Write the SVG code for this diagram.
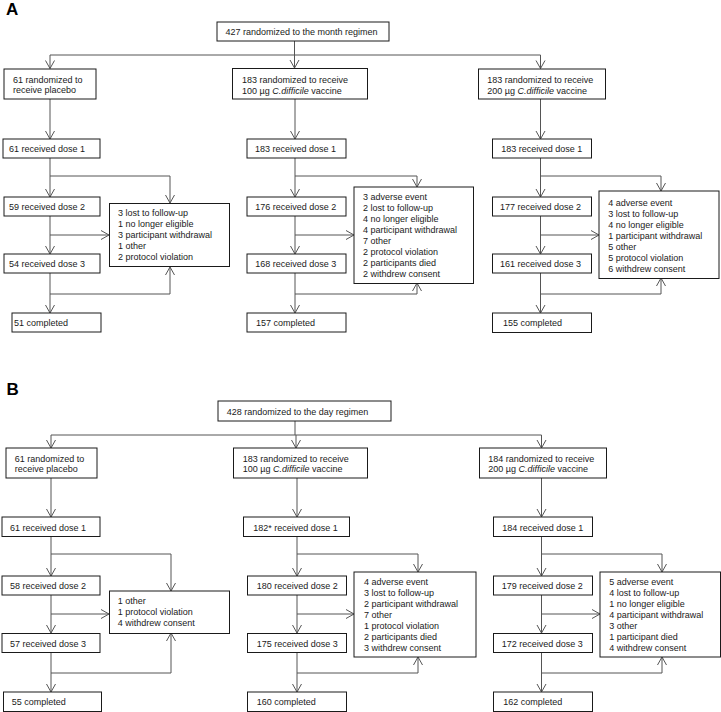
<svg xmlns="http://www.w3.org/2000/svg" width="721" height="712" viewBox="0 0 721 712">
<defs>
<style>
.b{fill:#fff;stroke:#1a1a1a;stroke-width:1}
.t{font-family:"Liberation Sans",Arial,sans-serif;font-size:9px;fill:#1a1a1a}
.i{font-style:italic}
.c{fill:none;stroke:#555;stroke-width:1}
.p{font-family:"Liberation Sans",Arial,sans-serif;font-size:17px;font-weight:bold;fill:#000}
</style>
<marker id="ah" markerUnits="userSpaceOnUse" markerWidth="8" markerHeight="10" viewBox="0 0 8 10" refX="8" refY="5" orient="auto" overflow="visible">
<path d="M0,0.5 L8,5 L0,9.5" fill="none" stroke="#555" stroke-width="1"/>
</marker>
</defs>
<rect width="721" height="712" fill="#fff"/>
<text class="p" x="6" y="15">A</text>
<text class="p" x="6.5" y="395">B</text>

<g id="connectors">
<!-- Panel A -->
<path class="c" d="M294.5,41 V55 M50,55 H540.5"/>
<path class="c" d="M50,55 V68.5" marker-end="url(#ah)"/>
<path class="c" d="M294.5,55 V68" marker-end="url(#ah)"/>
<path class="c" d="M540.5,55 V68.5" marker-end="url(#ah)"/>
<path class="c" d="M50,99 V139" marker-end="url(#ah)"/>
<path class="c" d="M50,158 V197" marker-end="url(#ah)"/>
<path class="c" d="M50,176 H170 V203" marker-end="url(#ah)"/>
<path class="c" d="M50,216 V254" marker-end="url(#ah)"/>
<path class="c" d="M50,235 H109" marker-end="url(#ah)"/>
<path class="c" d="M50,273 V313" marker-end="url(#ah)"/>
<path class="c" d="M50,294 H170 V267" marker-end="url(#ah)"/>

<path class="c" d="M295,99 V139" marker-end="url(#ah)"/>
<path class="c" d="M295,158 V197" marker-end="url(#ah)"/>
<path class="c" d="M295,176 H417 V187" marker-end="url(#ah)"/>
<path class="c" d="M295,216 V254" marker-end="url(#ah)"/>
<path class="c" d="M295,235 H354" marker-end="url(#ah)"/>
<path class="c" d="M295,273 V313" marker-end="url(#ah)"/>
<path class="c" d="M295,294 H417 V283" marker-end="url(#ah)"/>

<path class="c" d="M540.5,99 V139" marker-end="url(#ah)"/>
<path class="c" d="M540.5,158 V197" marker-end="url(#ah)"/>
<path class="c" d="M540.5,176 H661 V191" marker-end="url(#ah)"/>
<path class="c" d="M540.5,216 V254" marker-end="url(#ah)"/>
<path class="c" d="M540.5,235 H599" marker-end="url(#ah)"/>
<path class="c" d="M540.5,273 V313" marker-end="url(#ah)"/>
<path class="c" d="M540.5,294 H661 V278" marker-end="url(#ah)"/>

<!-- Panel B -->
<path class="c" d="M295,421 V435 M51,435 H541.5"/>
<path class="c" d="M51,435 V448" marker-end="url(#ah)"/>
<path class="c" d="M296,435 V448" marker-end="url(#ah)"/>
<path class="c" d="M541.5,435 V448" marker-end="url(#ah)"/>
<path class="c" d="M51,478 V517" marker-end="url(#ah)"/>
<path class="c" d="M51,537 V576" marker-end="url(#ah)"/>
<path class="c" d="M51,554 H171 V591" marker-end="url(#ah)"/>
<path class="c" d="M51,595 V633" marker-end="url(#ah)"/>
<path class="c" d="M51,614 H109" marker-end="url(#ah)"/>
<path class="c" d="M51,653 V692" marker-end="url(#ah)"/>
<path class="c" d="M51,673 H171 V633" marker-end="url(#ah)"/>

<path class="c" d="M297,478 V517" marker-end="url(#ah)"/>
<path class="c" d="M297,537 V576" marker-end="url(#ah)"/>
<path class="c" d="M297,554 H418 V572" marker-end="url(#ah)"/>
<path class="c" d="M297,595 V633" marker-end="url(#ah)"/>
<path class="c" d="M297,614 H354" marker-end="url(#ah)"/>
<path class="c" d="M297,653 V692" marker-end="url(#ah)"/>
<path class="c" d="M297,673 H418 V657" marker-end="url(#ah)"/>

<path class="c" d="M541.5,478 V517" marker-end="url(#ah)"/>
<path class="c" d="M541.5,537 V576" marker-end="url(#ah)"/>
<path class="c" d="M541.5,554 H662 V572" marker-end="url(#ah)"/>
<path class="c" d="M541.5,595 V633" marker-end="url(#ah)"/>
<path class="c" d="M541.5,614 H600" marker-end="url(#ah)"/>
<path class="c" d="M541.5,653 V692" marker-end="url(#ah)"/>
<path class="c" d="M541.5,673 H662 V657" marker-end="url(#ah)"/>
</g>

<!-- Panel A nodes -->
<g id="a-top"><rect class="b" x="217" y="22" width="172" height="19"/><text class="t" x="225.5" y="35.3">427 randomized to the month regimen</text></g>

<g id="a-placebo"><rect class="b" x="4" y="69" width="92" height="30"/><text class="t" x="13" y="82.5">61 randomized to</text><text class="t" x="13" y="93.3">receive placebo</text></g>
<g id="a-p-d1"><rect class="b" x="3" y="139" width="97" height="19"/><text class="t" x="9" y="151.5">61 received dose 1</text></g>
<g id="a-p-d2"><rect class="b" x="4" y="197" width="96" height="19"/><text class="t" x="9" y="209.5">59 received dose 2</text></g>
<g id="a-p-disc"><rect class="b" x="109.5" y="203.5" width="120" height="63"/>
<text class="t" x="118" y="216.3">3 lost to follow-up</text>
<text class="t" x="118" y="227.3">1 no longer eligible</text>
<text class="t" x="118" y="238.3">3 participant withdrawal</text>
<text class="t" x="118" y="249.3">1 other</text>
<text class="t" x="118" y="260.3">2 protocol violation</text></g>
<g id="a-p-d3"><rect class="b" x="4" y="254" width="96" height="19"/><text class="t" x="9" y="267">54 received dose 3</text></g>
<g id="a-p-comp"><rect class="b" x="12" y="313" width="89" height="19"/><text class="t" x="14" y="326">51 completed</text></g>

<g id="a-100"><rect class="b" x="232.5" y="68.5" width="135" height="30.5"/><text class="t" x="242" y="83">183 randomized to receive</text><text class="t" x="242" y="93.8">100 µg <tspan class="i">C.difficile</tspan> vaccine</text></g>
<g id="a-100-d1"><rect class="b" x="247" y="139" width="99" height="19"/><text class="t" x="255" y="151.5">183 received dose 1</text></g>
<g id="a-100-d2"><rect class="b" x="247" y="197" width="99" height="19"/><text class="t" x="255.3" y="209.5">176 received dose 2</text></g>
<g id="a-100-disc"><rect class="b" x="354" y="187" width="119.5" height="96.5"/>
<text class="t" x="363" y="199.5">3 adverse event</text>
<text class="t" x="363" y="210.5">2 lost to follow-up</text>
<text class="t" x="363" y="221.5">4 no longer eligible</text>
<text class="t" x="363" y="232.5">4 participant withdrawal</text>
<text class="t" x="363" y="243.5">7 other</text>
<text class="t" x="363" y="254.5">2 protocol violation</text>
<text class="t" x="363" y="265.5">2 participants died</text>
<text class="t" x="363" y="276.5">2 withdrew consent</text></g>
<g id="a-100-d3"><rect class="b" x="247" y="254" width="99" height="19"/><text class="t" x="255.3" y="267">168 received dose 3</text></g>
<g id="a-100-comp"><rect class="b" x="247" y="313" width="99" height="19"/><text class="t" x="256" y="326">157 completed</text></g>

<g id="a-200"><rect class="b" x="478.5" y="69" width="127" height="30"/><text class="t" x="487.3" y="83">183 randomized to receive</text><text class="t" x="487.3" y="93.8">200 µg <tspan class="i">C.difficile</tspan> vaccine</text></g>
<g id="a-200-d1"><rect class="b" x="492.5" y="139" width="99" height="19"/><text class="t" x="501.3" y="151.5">183 received dose 1</text></g>
<g id="a-200-d2"><rect class="b" x="492.5" y="197" width="99" height="19"/><text class="t" x="500" y="209.5">177 received dose 2</text></g>
<g id="a-200-disc"><rect class="b" x="599" y="191" width="120" height="87.5"/>
<text class="t" x="608.3" y="206">4 adverse event</text>
<text class="t" x="608.3" y="217">3 lost to follow-up</text>
<text class="t" x="608.3" y="228">4 no longer eligible</text>
<text class="t" x="608.3" y="239">1 participant withdrawal</text>
<text class="t" x="608.3" y="250">5 other</text>
<text class="t" x="608.3" y="261">5 protocol violation</text>
<text class="t" x="608.3" y="272">6 withdrew consent</text></g>
<g id="a-200-d3"><rect class="b" x="492.5" y="254" width="99" height="19"/><text class="t" x="500" y="267">161 received dose 3</text></g>
<g id="a-200-comp"><rect class="b" x="492.5" y="313" width="99" height="19.5"/><text class="t" x="503" y="326">155 completed</text></g>

<!-- Panel B nodes -->
<g id="b-top"><rect class="b" x="218" y="401" width="173" height="20"/><text class="t" x="226.7" y="414.6">428 randomized to the day regimen</text></g>

<g id="b-placebo"><rect class="b" x="6" y="448" width="91" height="30"/><text class="t" x="14.7" y="461.7">61 randomized to</text><text class="t" x="14.7" y="472.3">receive placebo</text></g>
<g id="b-p-d1"><rect class="b" x="2" y="517" width="98" height="19.5"/><text class="t" x="10" y="530.6">61 received dose 1</text></g>
<g id="b-p-d2"><rect class="b" x="2" y="576" width="98" height="19"/><text class="t" x="10" y="589">58 received dose 2</text></g>
<g id="b-p-disc"><rect class="b" x="109.5" y="591" width="120" height="42.5"/>
<text class="t" x="117.7" y="604.3">1 other</text>
<text class="t" x="117.7" y="615.3">1 protocol violation</text>
<text class="t" x="117.7" y="626.3">4 withdrew consent</text></g>
<g id="b-p-d3"><rect class="b" x="2" y="633.5" width="98" height="19"/><text class="t" x="10" y="646.6">57 received dose 3</text></g>
<g id="b-p-comp"><rect class="b" x="3.5" y="692" width="98" height="19.5"/><text class="t" x="11.7" y="705">55 completed</text></g>

<g id="b-100"><rect class="b" x="233.5" y="448" width="134" height="30"/><text class="t" x="242.7" y="461.7">183 randomized to receive</text><text class="t" x="242.7" y="472.3">100 µg <tspan class="i">C.difficile</tspan> vaccine</text></g>
<g id="b-100-d1"><rect class="b" x="243.5" y="517" width="106" height="19.5"/><text class="t" x="253.3" y="530.6">182* received dose 1</text></g>
<g id="b-100-d2"><rect class="b" x="247.5" y="576" width="99" height="19"/><text class="t" x="256.7" y="589">180 received dose 2</text></g>
<g id="b-100-disc"><rect class="b" x="354" y="572" width="122" height="85"/>
<text class="t" x="364" y="585.3">4 adverse event</text>
<text class="t" x="364" y="596.3">3 lost to follow-up</text>
<text class="t" x="364" y="607.3">2 participant withdrawal</text>
<text class="t" x="364" y="618.3">7 other</text>
<text class="t" x="364" y="629.3">1 protocol violation</text>
<text class="t" x="364" y="640.3">2 participants died</text>
<text class="t" x="364" y="651.3">3 withdrew consent</text></g>
<g id="b-100-d3"><rect class="b" x="247.5" y="633.5" width="99" height="19"/><text class="t" x="256.7" y="646.6">175 received dose 3</text></g>
<g id="b-100-comp"><rect class="b" x="247.5" y="692" width="99" height="19.5"/><text class="t" x="256.7" y="705">160 completed</text></g>

<g id="b-200"><rect class="b" x="479.5" y="448" width="127" height="30"/><text class="t" x="488.3" y="461.7">184 randomized to receive</text><text class="t" x="488.3" y="472.3">200 µg <tspan class="i">C.difficile</tspan> vaccine</text></g>
<g id="b-200-d1"><rect class="b" x="493.5" y="517" width="99" height="19.5"/><text class="t" x="502.3" y="530.6">184 received dose 1</text></g>
<g id="b-200-d2"><rect class="b" x="493.5" y="576" width="99" height="19"/><text class="t" x="501.7" y="589">179 received dose 2</text></g>
<g id="b-200-disc"><rect class="b" x="600" y="572" width="120.5" height="85"/>
<text class="t" x="609.3" y="585.3">5 adverse event</text>
<text class="t" x="609.3" y="596.3">4 lost to follow-up</text>
<text class="t" x="609.3" y="607.3">1 no longer eligible</text>
<text class="t" x="609.3" y="618.3">4 participant withdrawal</text>
<text class="t" x="609.3" y="629.3">3 other</text>
<text class="t" x="609.3" y="640.3">1 participant died</text>
<text class="t" x="609.3" y="651.3">4 withdrew consent</text></g>
<g id="b-200-d3"><rect class="b" x="493.5" y="633.5" width="99" height="19"/><text class="t" x="501.7" y="646.6">172 received dose 3</text></g>
<g id="b-200-comp"><rect class="b" x="493.5" y="692" width="99" height="19.5"/><text class="t" x="503.3" y="705">162 completed</text></g>
</svg>
